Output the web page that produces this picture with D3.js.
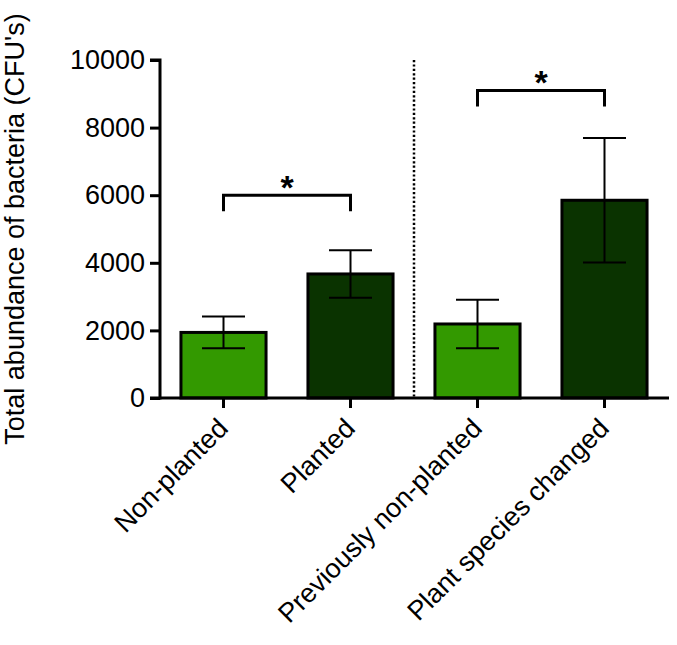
<!DOCTYPE html>
<html><head><meta charset="utf-8">
<script src="https://cdn.jsdelivr.net/npm/d3@7"></script>
<style>body{margin:0;background:#fff}svg{display:block}</style>
</head><body><svg id="c" width="677" height="645"></svg>
<script>
const categories = ["Non-planted","Planted","Previously non-planted","Plant species changed"];
const means = [1940, 3670, 2190, 5850];
const errors = [470, 705, 715, 1840];
const barColors = ["#339900","#0a3300","#339900","#0a3300"];
const yTicks = [0,2000,4000,6000,8000,10000];
const brackets = [{from:0,to:1,y:6000,label:"*"},{from:2,to:3,y:9100,label:"*"}];
const yLabel = "Total abundance of bacteria (CFU's)";

const svg = d3.select("#c");
const font = "Liberation Sans, Arial, sans-serif";
const x = d3.scaleBand().domain(categories).range([160, 668]).paddingInner(0.33).paddingOuter(0.165);
const y = d3.scaleLinear().domain([0,10000]).range([398, 60]);

// dotted separator
const sepX = (x(categories[1])+x.bandwidth()+x(categories[2]))/2;
svg.append("line").attr("x1",sepX).attr("x2",sepX)
  .attr("y1",y(10000)).attr("y2",y(0)).attr("stroke","#000").attr("stroke-width",2.5)
  .attr("stroke-dasharray","2.2 2.2");

// bars
svg.selectAll("rect.bar").data(categories).enter().append("rect")
  .attr("x",d=>x(d)).attr("width",x.bandwidth())
  .attr("y",(d,i)=>y(means[i])).attr("height",(d,i)=>y(0)-y(means[i]))
  .attr("fill",(d,i)=>barColors[i]).attr("stroke","#000").attr("stroke-width",3);

// error bars
const cx = d=>x(d)+x.bandwidth()/2;
const eg = svg.selectAll("g.err").data(categories).enter().append("g");
eg.append("line").attr("x1",cx).attr("x2",cx).attr("y1",(d,i)=>y(means[i]+errors[i])).attr("y2",(d,i)=>y(means[i]-errors[i])).attr("stroke","#000").attr("stroke-width",2);
eg.append("line").attr("x1",d=>cx(d)-21.5).attr("x2",d=>cx(d)+21.5).attr("y1",(d,i)=>y(means[i]+errors[i])).attr("y2",(d,i)=>y(means[i]+errors[i])).attr("stroke","#000").attr("stroke-width",2);
eg.append("line").attr("x1",d=>cx(d)-21.5).attr("x2",d=>cx(d)+21.5).attr("y1",(d,i)=>y(means[i]-errors[i])).attr("y2",(d,i)=>y(means[i]-errors[i])).attr("stroke","#000").attr("stroke-width",2);

// axes
const yAxis = svg.append("g").attr("transform","translate(160,0)")
  .call(d3.axisLeft(y).tickValues(yTicks).tickFormat(d3.format("d")).tickSize(10).tickPadding(5));
const xAxis = svg.append("g").attr("transform",`translate(0,${y(0)})`)
  .call(d3.axisBottom(x).tickSize(10).tickFormat(""));
[yAxis,xAxis].forEach(a=>{
  a.select(".domain").attr("stroke","#000").attr("stroke-width",3);
  a.selectAll(".tick line").attr("stroke","#000").attr("stroke-width",3);
});
xAxis.select(".domain").attr("d",`M150,0H669`);
yAxis.select(".domain").attr("d",`M-10,${y(10000)}H0V${y(0)+1.5}`);
yAxis.selectAll(".tick text").attr("font-family",font).attr("font-size",27).attr("fill","#000");

// x labels
svg.selectAll("text.xl").data(categories).enter().append("text")
  .attr("transform",d=>`translate(${cx(d)+6},${y(0)+32}) rotate(-45)`)
  .attr("text-anchor","end").attr("font-family",font).attr("font-size",27).attr("fill","#000")
  .text(d=>d);

// y label
svg.append("text").attr("transform",`translate(24,${(y(0)+y(10000))/2}) rotate(-90)`)
  .attr("text-anchor","middle").attr("font-family",font).attr("font-size",27).attr("fill","#000")
  .text(yLabel);

// brackets
brackets.forEach(b=>{
  const x1 = cx(categories[b.from]), x2 = cx(categories[b.to]), yy = y(b.y);
  svg.append("path").attr("d",`M${x1},${yy+16}V${yy}H${x2}V${yy+16}`)
    .attr("fill","none").attr("stroke","#000").attr("stroke-width",3);
  svg.append("text").attr("x",(x1+x2)/2).attr("y",yy+4).attr("text-anchor","middle")
    .attr("font-family",font).attr("font-size",34).attr("font-weight","bold").attr("fill","#000")
    .text(b.label);
});
</script></body></html>
